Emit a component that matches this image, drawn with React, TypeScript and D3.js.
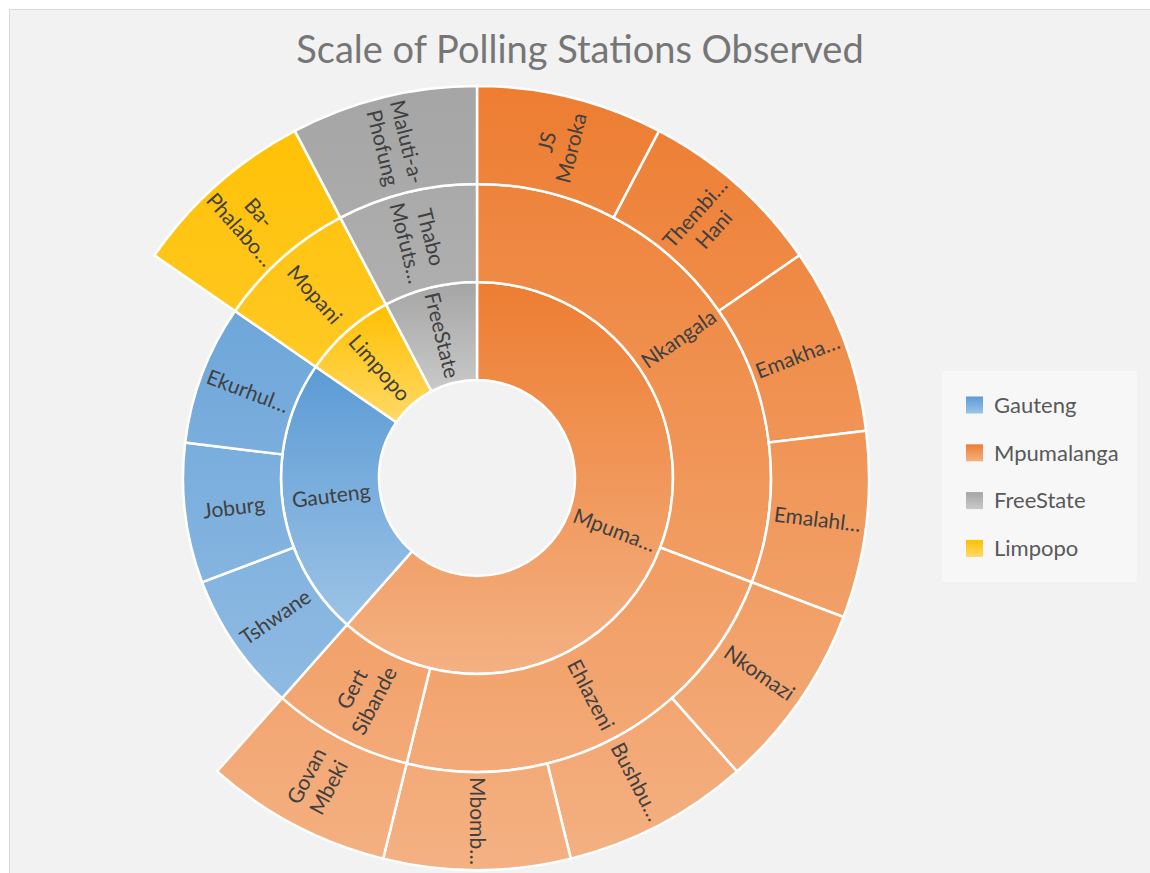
import React from "react";
import * as d3 from "d3";

// ---------- data ----------
const provinceNames = ["Mpumalanga", "Gauteng", "Limpopo", "FreeState"];
const provinceLabels = [["Mpuma…"], ["Gauteng"], ["Limpopo"], ["FreeState"]];
const provinceColors = ["#ED7D31", "#5B9BD5", "#FFC000", "#A5A5A5"];
const provinceLight = ["#F4B183", "#9DC3E6", "#FFD966", "#C9C9C9"];

const districtNames = ["Nkangala", "Ehlazeni", "Gert Sibande", "Mopani", "Thabo Mofutsanyana"];
const districtParents = ["Mpumalanga", "Mpumalanga", "Mpumalanga", "Limpopo", "FreeState"];
const districtLabels = [["Nkangala"], ["Ehlazeni"], ["Gert", "Sibande"], ["Mopani"], ["Thabo", "Mofuts…"]];

const municipalityNames = [
  "JS Moroka", "Thembisile Hani", "Emakhazeni", "Emalahleni",
  "Nkomazi", "Bushbuckridge", "Mbombela", "Govan Mbeki",
  "Tshwane", "Joburg", "Ekurhuleni", "Ba-Phalaborwa", "Maluti-a-Phofung",
];
const municipalityParents = [
  "Nkangala", "Nkangala", "Nkangala", "Nkangala",
  "Ehlazeni", "Ehlazeni", "Ehlazeni", "Gert Sibande",
  "Gauteng", "Gauteng", "Gauteng", "Mopani", "Thabo Mofutsanyana",
];
const municipalityValues = [1, 1, 1, 1, 1, 1, 1, 1, 1, 1, 1, 1, 1];
const municipalityLabels = [
  ["JS", "Moroka"], ["Thembi…", "Hani"], ["Emakha…"], ["Emalahl…"],
  ["Nkomazi"], ["Bushbu…"], ["Mbomb…"], ["Govan", "Mbeki"],
  ["Tshwane"], ["Joburg"], ["Ekurhul…"], ["Ba-", "Phalabo…"], ["Maluti-a-", "Phofung"],
];

const legendOrder = ["Gauteng", "Mpumalanga", "FreeState", "Limpopo"];
const title = "Scale of Polling Stations Observed";

// ---------- layout ----------
const W = 1150, H = 873;
const cx = 477, cy = 478;
const FONT = "Lato, 'Open Sans', sans-serif";

type Row = { id: string; parent: string; value?: number; lines?: string[] };

const rows: Row[] = [
  { id: "root", parent: "" },
  ...provinceNames.map((p, i) => ({ id: p, parent: "root", lines: provinceLabels[i] })),
  ...districtNames.map((d, i) => ({ id: d, parent: districtParents[i], lines: districtLabels[i] })),
  ...municipalityNames.map((m, i) => ({
    id: m, parent: municipalityParents[i], value: municipalityValues[i], lines: municipalityLabels[i],
  })),
];

export default function App() {
  const root = d3
    .stratify<Row>()
    .id((d) => d.id)
    .parentId((d) => (d.parent === "" ? null : d.parent))(rows)
    .sum((d) => d.value || 0);

  const part = d3.partition<Row>().size([2 * Math.PI, 4])(root as any);
  const rScale = d3.scaleLinear().domain([0, 4]).range([0, 392]);

  const arc = d3
    .arc<any>()
    .startAngle((d) => d.x0)
    .endAngle((d) => d.x1)
    .innerRadius((d) => rScale(d.y0))
    .outerRadius((d) => rScale(d.y1));

  const nodes = part.descendants().filter((d) => d.depth > 0);
  const provIndex = (d: any) => {
    let n = d;
    while (n.depth > 1) n = n.parent;
    return provinceNames.indexOf(n.data.id);
  };

  return (
    <svg width={W} height={H} style={{ position: "absolute", left: 0, top: 0 }} fontFamily={FONT}>
      <defs>
        {provinceNames.map((p, i) => (
          <linearGradient key={"b" + i} id={"gb" + i} x1="0" y1="0" x2="0" y2="1">
            <stop offset="0" stopColor={provinceColors[i]} />
            <stop offset="1" stopColor={provinceLight[i]} />
          </linearGradient>
        ))}
        {provinceNames.map((p, i) => (
          <linearGradient key={"u" + i} id={"gu" + i} gradientUnits="userSpaceOnUse" x1="0" y1={-392} x2="0" y2={392}>
            <stop offset="0" stopColor={provinceColors[i]} />
            <stop offset="1" stopColor={provinceLight[i]} />
          </linearGradient>
        ))}
      </defs>
      <rect x={0} y={0} width={W} height={H} fill="#ffffff" />
      <rect x={9.5} y={9.5} width={1160} height={900} fill="#F2F2F2" stroke="#D9D9D9" strokeWidth={1} />
      <text x={580} y={63} textAnchor="middle" fontSize={38} fill="#767676">
        {title}
      </text>
      <g transform={`translate(${cx},${cy})`}>
        {nodes.map((d: any) => {
          const pi = provIndex(d);
          const fill = d.depth === 1 ? `url(#gb${pi})` : `url(#gu${pi})`;
          return (
            <path key={"p" + d.data.id} d={arc(d) as string} fill={fill} stroke="#FFFFFF" strokeWidth={2.5} />
          );
        })}
        {nodes.map((d: any) => {
          const a = ((d.x0 + d.x1) / 2) * (180 / Math.PI);
          const rr = rScale((d.y0 + d.y1) / 2);
          const x = rr * Math.sin((a * Math.PI) / 180);
          const y = -rr * Math.cos((a * Math.PI) / 180);
          const rot = a <= 180 ? a - 90 : a - 270;
          const lines: string[] = d.data.lines || [];
          const lh = 25;
          return (
            <text
              key={"t" + d.data.id}
              transform={`translate(${x},${y}) rotate(${rot})`}
              textAnchor="middle"
              fontSize={21}
              fill="#404040"
            >
              {lines.map((l, k) => (
                <tspan key={k} x={0} y={(k - (lines.length - 1) / 2) * lh} dy="0.35em">
                  {l}
                </tspan>
              ))}
            </text>
          );
        })}
      </g>
      <rect x={942} y={371} width={195} height={211} fill="#F7F7F7" />
      {legendOrder.map((p, i) => {
        const pi = provinceNames.indexOf(p);
        const yc = 405 + i * 47.8;
        return (
          <g key={p}>
            <rect x={966} y={yc - 8.5} width={17} height={17} fill={`url(#gb${pi})`} />
            <text x={994} y={yc} dy="0.35em" fontSize={22} fill="#595959">
              {p}
            </text>
          </g>
        );
      })}
    </svg>
  );
}
